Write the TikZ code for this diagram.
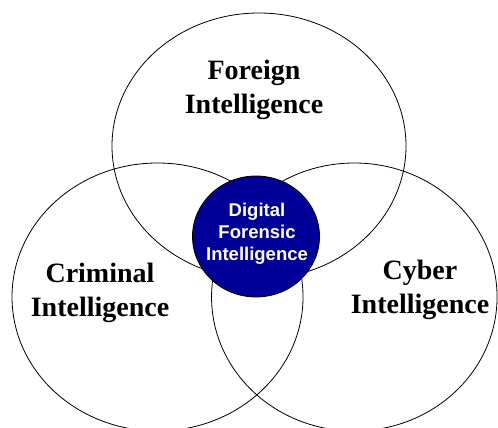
\documentclass[tikz,border=0pt]{standalone}
\usepackage{fontspec}
\setmainfont{Liberation Serif}
\newfontfamily\arialfont{Liberation Sans}
\usetikzlibrary{shapes.geometric}
\definecolor{dfnavy}{RGB}{0,0,153}
\begin{document}
\begin{tikzpicture}[x=1pt,y=-1pt,
  bigset/.style={draw=black,line width=0.8pt,ellipse,inner sep=0pt},
  core/.style={draw=black,line width=0.8pt,ellipse,inner sep=0pt,fill=dfnavy},
  setlabel/.style={align=center,inner sep=0pt,font=\fontsize{28}{34}\selectfont\bfseries},
  corelabel/.style={align=center,inner sep=0pt,text=white,font=\arialfont\fontsize{18.5}{22.3}\selectfont\bfseries}]
\useasboundingbox (0,0) rectangle (498,428);
\node[bigset,minimum width=294pt,minimum height=266pt] (foreign) at (259,146) {};
\node[bigset,minimum width=291pt,minimum height=268pt] (criminal) at (157.5,297) {};
\node[bigset,minimum width=285.5pt,minimum height=268pt] (cyber) at (354.3,297) {};
\node[core,minimum width=127pt,minimum height=121pt] (dfi) at (256,236.5) {};
\node[setlabel] (tforeign) at (254,90) {Foreign\\Intelligence};
\node[setlabel] (tcriminal) at (100,293) {Criminal\\Intelligence};
\node[setlabel] (tcyber) at (420,290) {Cyber\\Intelligence};
\node[corelabel] (tdfi) at (257,233.7) {Digital\\Forensic\\Intelligence};
\end{tikzpicture}
\end{document}
